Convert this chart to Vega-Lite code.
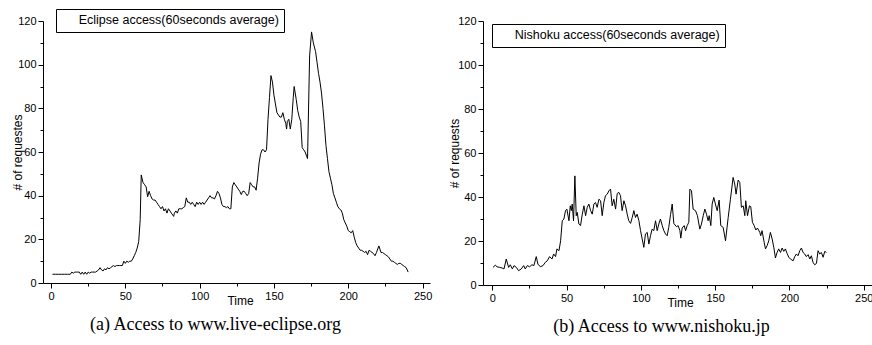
{
  "$schema": "https://vega.github.io/schema/vega-lite/v6.json",
  "background": "white",
  "padding": {"left": 11, "top": 8, "right": 0, "bottom": 0},
  "bounds": "flush",
  "spacing": 53,
  "config": {
    "view": {"stroke": null},
    "font": "Liberation Sans",
    "axis": {
      "grid": false,
      "domainColor": "black",
      "tickColor": "black",
      "labelColor": "black",
      "titleColor": "black",
      "labelFont": "Liberation Sans",
      "titleFont": "Liberation Sans",
      "labelFontSize": 11,
      "titleFontSize": 12,
      "titleFontWeight": "normal",
      "labelOverlap": false,
      "labelFlush": false
    },
    "legend": {
      "orient": "none",
      "title": null,
      "strokeColor": "black",
      "strokeWidth": 1,
      "padding": 4.7,
      "labelFont": "Liberation Sans",
      "labelFontSize": 12.5,
      "labelColor": "black",
      "labelLimit": 0,
      "symbolSize": 1,
      "symbolOpacity": 0,
      "symbolStrokeWidth": 0,
      "symbolFillColor": "transparent",
      "symbolType": "circle",
      "labelOffset": 5.5
    },
    "title": {"font": "Liberation Serif", "fontSize": 18, "fontWeight": "normal", "color": "black", "orient": "bottom"}
  },
  "resolve": {"scale": {"color": "independent", "x": "independent", "y": "independent"}, "legend": {"color": "independent"}},
  "hconcat": [
    {
      "width": 387,
      "height": 262,
      "title": {"text": "(a) Access to www.live-eclipse.org", "orient": "bottom", "dx": -21, "offset": 10},
      "data": {"values": [
        {"t":1,"v":4},{"t":2,"v":4},{"t":3,"v":4},{"t":4,"v":4},{"t":5,"v":4},{"t":6,"v":4},{"t":7,"v":4},{"t":8,"v":4},{"t":9,"v":4},{"t":10,"v":4},{"t":11,"v":4},{"t":12,"v":4},{"t":13,"v":4},
        {"t":14,"v":5},{"t":15,"v":4.5},{"t":16,"v":5},{"t":17,"v":5},{"t":18,"v":5},{"t":19,"v":5},{"t":20,"v":4},{"t":21,"v":5},{"t":22,"v":4},{"t":23,"v":5},{"t":24,"v":4},{"t":25,"v":5},{"t":26,"v":4.5},{"t":27,"v":5},{"t":28,"v":5},{"t":29,"v":5},{"t":30,"v":5},
        {"t":31,"v":5.5},{"t":32,"v":6},{"t":33,"v":7},{"t":34,"v":6},{"t":35,"v":5.5},{"t":36,"v":6.5},{"t":37,"v":6},{"t":38,"v":7},{"t":39,"v":6.5},{"t":40,"v":7},{"t":41,"v":7.5},{"t":42,"v":8},{"t":43,"v":7.5},{"t":44,"v":8},{"t":45,"v":8},{"t":46,"v":8},{"t":47,"v":8},{"t":48,"v":8},{"t":49,"v":10},{"t":50,"v":9},
        {"t":51,"v":10},{"t":52,"v":9.5},{"t":53,"v":10},{"t":54,"v":10},{"t":55,"v":11},{"t":56,"v":12.5},{"t":57,"v":14},{"t":58,"v":16},{"t":59,"v":19},{"t":60,"v":29},{"t":60.7,"v":49.5},{"t":61.9,"v":46},{"t":63,"v":45},{"t":64,"v":44},{"t":65,"v":39.5},{"t":66,"v":42},{"t":67,"v":40},{"t":68,"v":38.5},{"t":69,"v":38},{"t":70,"v":38},
        {"t":71,"v":37},{"t":72,"v":36},{"t":73,"v":35},{"t":74,"v":34},{"t":75,"v":35},{"t":76,"v":33},{"t":77,"v":34},{"t":78,"v":32},{"t":79,"v":34},{"t":80,"v":33},{"t":81,"v":32},{"t":82,"v":31},{"t":82.5,"v":30.5},{"t":83,"v":32},{"t":84,"v":33},{"t":85,"v":32},{"t":86,"v":34},{"t":87,"v":34},{"t":88,"v":34},{"t":89,"v":34.5},{"t":90,"v":35},
        {"t":91,"v":39},{"t":92,"v":37},{"t":93,"v":37},{"t":94,"v":36},{"t":95,"v":37},{"t":96,"v":36},{"t":97,"v":35},{"t":98,"v":37},{"t":99,"v":36},{"t":100,"v":37},{"t":101,"v":36},{"t":102,"v":37},{"t":103,"v":36},{"t":104,"v":37},{"t":105,"v":38},{"t":106,"v":39},{"t":107,"v":40},{"t":108,"v":39},{"t":109,"v":39},{"t":110,"v":38.5},
        {"t":111,"v":40},{"t":112,"v":42},{"t":113,"v":41},{"t":114,"v":39},{"t":115,"v":36},{"t":116,"v":35},{"t":117,"v":35},{"t":118,"v":34.5},{"t":119,"v":35},{"t":120,"v":34},{"t":121,"v":34},{"t":122,"v":44},{"t":123,"v":46},{"t":124,"v":45},{"t":125,"v":44},{"t":126,"v":43},{"t":127,"v":42},{"t":128,"v":40.5},{"t":129,"v":42},{"t":130,"v":42},
        {"t":131,"v":41},{"t":132,"v":40},{"t":133,"v":41},{"t":134,"v":46},{"t":135,"v":45},{"t":136,"v":44},{"t":137,"v":44},{"t":138,"v":42.5},{"t":139,"v":48},{"t":140,"v":55},{"t":141,"v":59},{"t":142,"v":61},{"t":143,"v":61},{"t":144,"v":60},{"t":145,"v":61},{"t":146,"v":75},{"t":147,"v":85},{"t":148,"v":95},{"t":149,"v":92},{"t":150,"v":86},
        {"t":151,"v":82},{"t":152,"v":78},{"t":153,"v":77},{"t":154,"v":76},{"t":155,"v":76},{"t":156,"v":78},{"t":157,"v":75},{"t":158,"v":73},{"t":158.5,"v":70.5},{"t":159,"v":74},{"t":160,"v":75},{"t":161,"v":70.5},{"t":162,"v":75},{"t":163,"v":85},{"t":163.6,"v":90},{"t":165,"v":84},{"t":166,"v":79},{"t":167,"v":76},{"t":168,"v":74},{"t":169,"v":62},{"t":170,"v":61},
        {"t":171,"v":60},{"t":172,"v":58},{"t":172.6,"v":57},{"t":174,"v":104},{"t":175.3,"v":115},{"t":176.5,"v":110},{"t":178,"v":106},{"t":179,"v":101},{"t":180,"v":96},{"t":181,"v":92},{"t":182,"v":87},{"t":183,"v":80},{"t":184,"v":72},{"t":185,"v":63},{"t":186,"v":57},{"t":187,"v":51},{"t":188,"v":48},{"t":189,"v":45},{"t":190,"v":41},
        {"t":191,"v":39},{"t":192,"v":37},{"t":193,"v":35},{"t":194,"v":34},{"t":195,"v":33.5},{"t":196,"v":32},{"t":197,"v":29},{"t":198,"v":27.5},{"t":199,"v":26},{"t":200,"v":24},{"t":201,"v":23.5},{"t":202,"v":23},{"t":203,"v":24},{"t":204,"v":21},{"t":205,"v":18.5},{"t":206,"v":17},{"t":207,"v":16},{"t":208,"v":15},{"t":209,"v":15},{"t":210,"v":14.5},
        {"t":211,"v":14},{"t":212,"v":14.5},{"t":213,"v":13},{"t":214,"v":15},{"t":215,"v":14.5},{"t":216,"v":14},{"t":217,"v":13.5},{"t":218,"v":12.5},{"t":219,"v":14},{"t":220.6,"v":17},{"t":222,"v":14},{"t":223,"v":14},{"t":224,"v":13.5},{"t":225,"v":13},{"t":226,"v":12.5},{"t":227,"v":12},{"t":228,"v":11},{"t":229,"v":10},{"t":230,"v":10},
        {"t":231,"v":9.5},{"t":232,"v":9},{"t":233,"v":8.5},{"t":234,"v":9},{"t":235,"v":9},{"t":236,"v":8.5},{"t":237,"v":8},{"t":238,"v":7.5},{"t":239,"v":7},{"t":240.3,"v":5}
      ]},
      "mark": {"type": "line", "strokeWidth": 1, "clip": false},
      "encoding": {
        "x": {"field": "t", "type": "quantitative", "scale": {"domain": [-5.4, 255], "nice": false, "zero": false},
          "axis": {"title": "Time", "values": [0,25,50,75,100,125,150,175,200,225,250],
            "labelExpr": "datum.value % 50 === 0 ? datum.label : ''",
            "tickSize": {"condition": {"test": "datum.value % 50 === 0", "value": 5}, "value": 3},
            "labelPadding": 2, "titleX": 197, "titleY": 17, "titleAlign": "center", "titleBaseline": "middle"}},
        "y": {"field": "v", "type": "quantitative", "scale": {"domain": [0, 120], "nice": false},
          "axis": {"title": "# of requestes", "values": [0,10,20,30,40,50,60,70,80,90,100,110,120],
            "labelExpr": "datum.value % 20 === 0 ? datum.label : ''",
            "tickSize": {"condition": {"test": "datum.value % 20 === 0", "value": 5}, "value": 3},
            "labelPadding": 2, "titleX": -26, "titleY": 131, "titleAlign": "center", "titleBaseline": "middle", "titleAngle": -90}},
        "color": {"datum": "Eclipse access(60seconds average)\u00a0", "type": "nominal", "scale": {"range": ["black"]},
          "legend": {"legendX": 13, "legendY": -12}}
      }
    },
    {
      "width": 389,
      "height": 264,
      "title": {"text": "(b) Access to www.nishoku.jp", "orient": "bottom", "dx": -16, "offset": 10},
      "data": {"values": [
        {"t":0.5,"v":8},{"t":2,"v":9},{"t":3.2,"v":8.3},{"t":5,"v":8},{"t":6.7,"v":7.7},{"t":7.9,"v":7.3},{"t":9.4,"v":11.8},{"t":11,"v":8},{"t":12.1,"v":9.2},{"t":13.5,"v":7.3},{"t":14.6,"v":8.8},{"t":16.2,"v":8},{"t":17.7,"v":6.5},{"t":19.5,"v":7.3},{"t":21.1,"v":8.8},{"t":22.2,"v":7.3},{"t":23.6,"v":8.8},{"t":25.1,"v":8.3},{"t":26.7,"v":9.2},{"t":28,"v":8.8},
        {"t":29.6,"v":12.9},{"t":30.7,"v":9.5},{"t":32.3,"v":8.3},{"t":34.1,"v":8.8},{"t":35.7,"v":10.3},{"t":37,"v":11},{"t":38.6,"v":12.9},{"t":40.2,"v":11.8},{"t":41.3,"v":14.1},{"t":42.6,"v":12.9},{"t":43.5,"v":16.4},{"t":44.9,"v":15.6},{"t":46,"v":20.1},{"t":47.1,"v":29.2},{"t":48.2,"v":30},{"t":49.3,"v":33.8},{"t":50.2,"v":34.5},{"t":51.6,"v":29.2},{"t":52.5,"v":36},{"t":53.2,"v":33.8},
        {"t":53.8,"v":36.8},{"t":54.7,"v":29.2},{"t":55.6,"v":49.6},{"t":56.5,"v":31.5},{"t":57.2,"v":33},{"t":58.3,"v":27.7},{"t":59.4,"v":27},{"t":60.6,"v":32.2},{"t":61.7,"v":36},{"t":62.8,"v":31.5},{"t":63.9,"v":35.3},{"t":65,"v":36.8},{"t":66.2,"v":33.8},{"t":67.3,"v":32.2},{"t":68.4,"v":36.8},{"t":69.5,"v":37.5},{"t":70.6,"v":35.3},{"t":71.8,"v":39},{"t":72.9,"v":38.3},{"t":74,"v":31.5},
        {"t":75.1,"v":37.5},{"t":76.2,"v":40.6},{"t":77.4,"v":41.3},{"t":78.5,"v":42.8},{"t":79.6,"v":43.6},{"t":80.7,"v":36},{"t":81.8,"v":39},{"t":83,"v":34.5},{"t":84.1,"v":41.6},{"t":85.2,"v":42.1},{"t":86.3,"v":40.6},{"t":87.4,"v":33.8},{"t":88.6,"v":38.3},{"t":89.7,"v":36},{"t":90.8,"v":32.2},{"t":91.9,"v":29.2},{"t":93.1,"v":28},{"t":94.2,"v":30.7},{"t":95.3,"v":33.8},{"t":96.4,"v":30.7},
        {"t":97.5,"v":32.2},{"t":98.7,"v":29.2},{"t":99.8,"v":24.7},{"t":100.9,"v":20.9},{"t":102,"v":17.1},{"t":103.1,"v":23.2},{"t":104.3,"v":23.9},{"t":105.4,"v":18.6},{"t":106.5,"v":22.4},{"t":107.6,"v":25.4},{"t":108.7,"v":24.7},{"t":109.9,"v":29.2},{"t":111,"v":24.7},{"t":112.1,"v":27.7},{"t":113.2,"v":30},{"t":114.4,"v":27},{"t":115.5,"v":24.7},{"t":116.6,"v":23.2},{"t":117.7,"v":22.4},{"t":118.8,"v":26.2},
        {"t":120,"v":32},{"t":121.1,"v":36.8},{"t":122.2,"v":28},{"t":124,"v":26.5},{"t":125.1,"v":27},{"t":126.3,"v":24.7},{"t":126.9,"v":21.3},{"t":127.8,"v":25.9},{"t":129.2,"v":27},{"t":130.1,"v":24.7},{"t":131.2,"v":27},{"t":132.3,"v":28.5},{"t":133,"v":43.6},{"t":134.1,"v":42.8},{"t":135.2,"v":34.5},{"t":136.8,"v":33.8},{"t":138.1,"v":31.5},{"t":139.7,"v":25.4},{"t":140.8,"v":27.7},{"t":142,"v":31.5},
        {"t":143.1,"v":34.5},{"t":144.2,"v":32.2},{"t":145.3,"v":29.2},{"t":146,"v":31.5},{"t":147.1,"v":27},{"t":148,"v":36.8},{"t":149.1,"v":39.8},{"t":150.2,"v":36.8},{"t":151.4,"v":33.8},{"t":152.7,"v":38.6},{"t":153.8,"v":27},{"t":155.4,"v":26.2},{"t":157,"v":20.1},{"t":158.8,"v":30.7},{"t":160.3,"v":39},{"t":162.1,"v":48.9},{"t":163.2,"v":45.9},{"t":164.1,"v":41.3},{"t":165.5,"v":47.7},{"t":166.6,"v":46.6},
        {"t":167.7,"v":35.3},{"t":168.9,"v":36},{"t":170,"v":31.5},{"t":170.6,"v":38.3},{"t":171.8,"v":31.5},{"t":173.1,"v":36},{"t":174,"v":35.6},{"t":175.1,"v":28.5},{"t":176.3,"v":27},{"t":177.4,"v":25},{"t":178.5,"v":25.9},{"t":180.1,"v":23.9},{"t":180.7,"v":22.4},{"t":181.6,"v":24.7},{"t":183,"v":19.4},{"t":183.9,"v":16.4},{"t":185,"v":17.9},{"t":186.1,"v":20.1},{"t":187.2,"v":23.9},{"t":188.4,"v":20.9},
        {"t":189.5,"v":17.1},{"t":190.6,"v":12.3},{"t":191.7,"v":14.8},{"t":192.8,"v":16.4},{"t":194,"v":14.8},{"t":195.1,"v":16.8},{"t":196.2,"v":15.3},{"t":197.3,"v":16.4},{"t":198.4,"v":14.4},{"t":199.6,"v":12.6},{"t":200.7,"v":11.8},{"t":202.5,"v":11},{"t":203.6,"v":12.9},{"t":204.7,"v":14.1},{"t":205.8,"v":13.3},{"t":207,"v":15.6},{"t":208.1,"v":16.8},{"t":209.2,"v":14.8},{"t":210.3,"v":14.1},{"t":211.4,"v":12.9},
        {"t":212.6,"v":13.8},{"t":213.7,"v":11.8},{"t":214.8,"v":13.3},{"t":215.9,"v":10.3},{"t":217,"v":9.2},{"t":218.2,"v":9.8},{"t":219.3,"v":15.6},{"t":220.4,"v":14.1},{"t":221.5,"v":14.8},{"t":222.7,"v":12.6},{"t":223.8,"v":15.3},{"t":224.9,"v":14.8}
      ]},
      "mark": {"type": "line", "strokeWidth": 1, "clip": false},
      "encoding": {
        "x": {"field": "t", "type": "quantitative", "scale": {"domain": [-6.25, 255.6], "nice": false, "zero": false},
          "axis": {"title": "Time", "values": [0,25,50,75,100,125,150,175,200,225,250],
            "labelExpr": "datum.value % 50 === 0 ? datum.label : ''",
            "tickSize": {"condition": {"test": "datum.value % 50 === 0", "value": 5}, "value": 3},
            "labelPadding": 2, "titleX": 197, "titleY": 17, "titleAlign": "center", "titleBaseline": "middle"}},
        "y": {"field": "v", "type": "quantitative", "scale": {"domain": [0, 120], "nice": false},
          "axis": {"title": "# of requests", "values": [0,10,20,30,40,50,60,70,80,90,100,110,120],
            "labelExpr": "datum.value % 20 === 0 ? datum.label : ''",
            "tickSize": {"condition": {"test": "datum.value % 20 === 0", "value": 5}, "value": 3},
            "labelPadding": 2, "titleX": -29, "titleY": 132, "titleAlign": "center", "titleBaseline": "middle", "titleAngle": -90}},
        "color": {"datum": "Nishoku access(60seconds average)\u00a0", "type": "nominal", "scale": {"range": ["black"]},
          "legend": {"legendX": 9, "legendY": 3}}
      }
    }
  ]
}
